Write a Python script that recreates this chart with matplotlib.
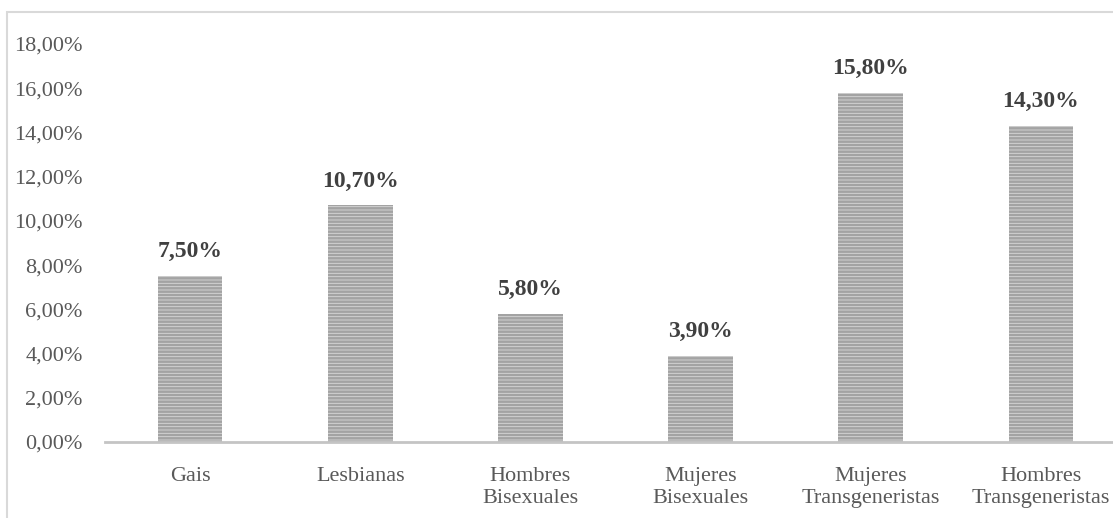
import matplotlib.pyplot as plt
from matplotlib.patches import Rectangle
from matplotlib.ticker import FuncFormatter

categorias = ['Gais', 'Lesbianas', 'Hombres\nBisexuales', 'Mujeres\nBisexuales',
              'Mujeres\nTransgeneristas', 'Hombres\nTransgeneristas']
porcentajes = [7.5, 10.7, 5.8, 3.9, 15.8, 14.3]
etiquetas = ['7,50%', '10,70%', '5,80%', '3,90%', '15,80%', '14,30%']
yticks = [0, 2, 4, 6, 8, 10, 12, 14, 16, 18]

plt.rcParams['font.family'] = ['Liberation Serif', 'DejaVu Serif']
plt.rcParams['hatch.linewidth'] = 1.8

texto = '#595959'

fig = plt.figure(figsize=(11.13, 5.18), dpi=100)
# plot area runs past the right edge of the figure
ax = fig.add_axes([105 / 1113, 76 / 518, 1021 / 1113, 398 / 518])

x = list(range(len(categorias)))
# edgecolor sets the hatch colour; the outline itself is not drawn
ax.bar(x, porcentajes, width=0.38, color='#d9d9d9', hatch='-----',
       edgecolor='#a3a3a3', linewidth=0)

for xi, v, lab in zip(x, porcentajes, etiquetas):
    ax.annotate(lab, (xi, v), xytext=(0, 10), textcoords='offset points',
                ha='center', va='bottom', fontsize=17, fontweight='bold',
                color='#404040')

ax.set_xlim(-0.5, 5.5)
ax.set_ylim(0, 18)
ax.set_yticks(yticks)
ax.yaxis.set_major_formatter(FuncFormatter(lambda v, p: f'{v:.2f}%'.replace('.', ',')))
ax.set_xticks(x)
ax.set_xticklabels(categorias, linespacing=1.2)
ax.tick_params(axis='y', length=0, pad=16, labelsize=16, labelcolor=texto)
ax.tick_params(axis='x', length=0, pad=18, labelsize=16, labelcolor=texto)

for s in ['top', 'right', 'left']:
    ax.spines[s].set_visible(False)
ax.spines['bottom'].set_color('#c4c4c4')
ax.spines['bottom'].set_linewidth(2)

# chart frame, cut off at the right and bottom
fig.patches.append(Rectangle((7 / 1113, -0.1), 1.2, (518 - 12) / 518 + 0.1,
                             transform=fig.transFigure, fill=False,
                             edgecolor='#d9d9d9', linewidth=1.5))

fig.savefig('out.png', dpi=100)
